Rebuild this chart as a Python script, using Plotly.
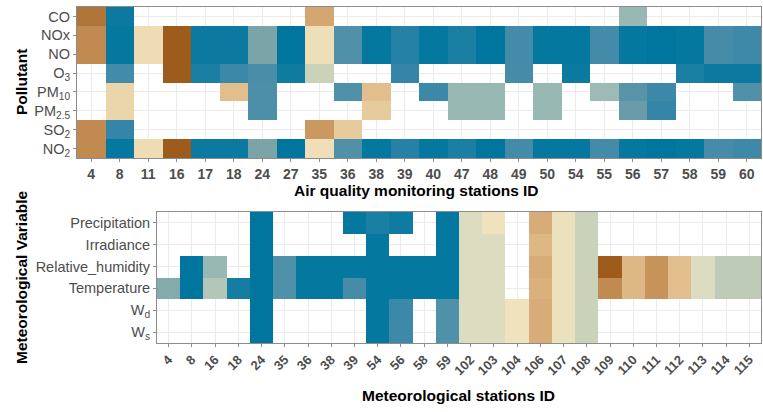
import plotly.graph_objects as go

# ---- Air quality monitoring stations (top panel) ----
aq_stations = ["4", "8", "11", "16", "17", "18", "24", "27", "35", "36", "38", "39",
               "40", "47", "48", "49", "50", "54", "55", "56", "57", "58", "59", "60"]
pollutants = ["CO", "NOx", "NO", "O<sub>3</sub>", "PM<sub>10</sub>", "PM<sub>2.5</sub>",
              "SO<sub>2</sub>", "NO<sub>2</sub>"]

N = None
co    = [0.08, 0.98, N, N, N, N, N, N, 0.25, N, N, N, N, N, N, N, N, N, N, 0.66, N, N, N, N]
nox   = [0.15, 0.99, 0.42, 0.0, 0.98, 0.98, 0.72, 1.0, 0.43, 0.82, 0.99, 0.93,
         0.99, 0.95, 1.0, 0.86, 0.99, 0.99, 0.86, 0.99, 1.0, 0.99, 0.85, 0.87]
no    = [0.15, 0.99, 0.42, 0.0, 0.98, 0.98, 0.72, 1.0, 0.43, 0.82, 0.99, 0.93,
         0.99, 0.95, 1.0, 0.86, 0.99, 0.99, 0.86, 0.99, 1.0, 0.99, 0.85, 0.87]
o3    = [N, 0.86, N, 0.0, 0.95, 0.88, 0.84, 0.97, 0.55, N, N, 0.9,
         N, N, N, 0.85, N, 0.98, N, N, N, 0.95, 0.98, 0.98]
pm10  = [N, 0.4, N, N, N, 0.32, 0.83, N, N, 0.82, 0.32, N,
         0.88, 0.66, 0.66, N, 0.66, N, 0.65, 0.8, 0.88, N, N, 0.82]
pm25  = [N, 0.4, N, N, N, N, 0.83, N, N, N, 0.36, N,
         N, 0.66, 0.66, N, 0.66, N, N, 0.76, 0.9, N, N, N]
so2   = [0.15, 0.9, N, N, N, N, N, N, 0.2, 0.36, N, N, N, N, N, N, N, N, N, N, N, N, N, N]
no2   = [0.15, 0.99, 0.42, 0.0, 0.98, 0.98, 0.72, 1.0, 0.43, 0.82, 0.99, 0.93,
         0.99, 0.95, 1.0, 0.86, 0.99, 0.99, 0.86, 0.99, 1.0, 0.99, 0.85, 0.87]

# ---- Meteorological stations (bottom panel) ----
met_stations = ["4", "8", "16", "18", "24", "35", "36", "38", "39", "54", "56", "58", "59",
                "102", "103", "104", "106", "107", "108", "109", "110", "111", "112",
                "113", "114", "115"]
met_vars = ["Precipitation", "Irradiance", "Relative_humidity", "Temperature",
            "W<sub>d</sub>", "W<sub>s</sub>"]

precip = [N, N, N, N, 1.0, N, N, N, 0.99, 0.95, 0.97, N, 0.99,
          0.5, 0.44, N, 0.27, 0.45, 0.55, N, N, N, N, N, N, N]
irrad  = [N, N, N, N, 1.0, N, N, N, N, 0.99, N, N, 0.99,
          0.5, 0.5, N, 0.3, 0.45, 0.55, N, N, N, N, N, N, N]
rhum   = [N, 1.0, 0.66, N, 1.0, 0.82, 0.99, 0.99, 0.99, 0.99, 0.99, 0.99, 0.99,
          0.5, 0.5, N, 0.27, 0.45, 0.55, 0.0, 0.3, 0.18, 0.32, 0.5, 0.58, 0.58]
temp   = [0.7, 1.0, 0.6, 0.96, 1.0, 0.82, 0.99, 0.99, 0.85, 0.99, 0.99, 0.99, 0.99,
          0.5, 0.5, N, 0.28, 0.45, 0.55, 0.15, 0.3, 0.18, 0.32, 0.5, 0.58, 0.58]
wdir   = [N, N, N, N, 1.0, N, N, N, N, 0.99, 0.88, N, 0.82,
          0.5, 0.5, 0.44, 0.27, 0.45, 0.55, N, N, N, N, N, N, N]
wspd   = [N, N, N, N, 1.0, N, N, N, N, 0.99, 0.87, N, 0.82,
          0.5, 0.5, 0.44, 0.27, 0.45, 0.55, N, N, N, N, N, N, N]

# brown -> cream -> teal-blue scale
colorscale = [
    [0.00, "#9e5c1c"],
    [0.15, "#c08a50"],
    [0.27, "#d8ac78"],
    [0.35, "#e6c898"],
    [0.44, "#efe2bc"],
    [0.50, "#dcdcc0"],
    [0.56, "#c6d0b8"],
    [0.66, "#98b8b4"],
    [0.72, "#7aa4a8"],
    [0.82, "#5090a8"],
    [0.90, "#3585a8"],
    [1.00, "#00769e"],
]

W, H = 763, 412
def px_x(p): return p / W
def px_y(p): return 1 - p / H

top_z = [co, nox, no, o3, pm10, pm25, so2, no2]
bot_z = [precip, irrad, rhum, temp, wdir, wspd]

fig = go.Figure()
fig.add_trace(go.Heatmap(
    x=aq_stations, y=pollutants, z=top_z, colorscale=colorscale,
    zmin=0, zmax=1, showscale=False, xaxis="x", yaxis="y", hoverongaps=False,
))
fig.add_trace(go.Heatmap(
    x=met_stations, y=met_vars, z=bot_z, colorscale=colorscale,
    zmin=0, zmax=1, showscale=False, xaxis="x2", yaxis="y2", hoverongaps=False,
))

FONT = "Liberation Sans, Arial, sans-serif"
axis_common = dict(
    type="category", showgrid=True, gridcolor="#ebebeb", gridwidth=1,
    showline=True, linecolor="#8c8c8c", linewidth=1, mirror=True,
    ticks="outside", ticklen=3, tickcolor="#8c8c8c", zeroline=False,
)

fig.update_layout(
    width=W, height=H, margin=dict(l=0, r=0, t=0, b=0),
    paper_bgcolor="white", plot_bgcolor="white",
    font=dict(family=FONT, color="#4d4d4d"),
    xaxis=dict(axis_common, domain=[px_x(77), px_x(761)], anchor="y",
               categoryorder="array", categoryarray=aq_stations,
               tickfont=dict(size=14, color="#4d4d4d", family=FONT, weight="bold")),
    yaxis=dict(axis_common, domain=[px_y(158), px_y(7)], anchor="x",
               categoryorder="array", categoryarray=pollutants[::-1],
               tickfont=dict(size=14.5, color="#4d4d4d")),
    xaxis2=dict(axis_common, domain=[px_x(157), px_x(761)], anchor="y2",
                categoryorder="array", categoryarray=met_stations, tickangle=-45,
                tickfont=dict(size=13, color="#4d4d4d", family=FONT, weight="bold")),
    yaxis2=dict(axis_common, domain=[px_y(343), px_y(212)], anchor="x2",
                categoryorder="array", categoryarray=met_vars[::-1],
                tickfont=dict(size=14.5, color="#4d4d4d")),
)

title_font = dict(family=FONT, size=15.5, color="black", weight="bold")
fig.add_annotation(text="Air quality monitoring stations ID", x=px_x(417), y=px_y(190),
                   xref="paper", yref="paper", showarrow=False, font=title_font,
                   xanchor="center", yanchor="middle")
fig.add_annotation(text="Meteorological stations ID", x=px_x(458), y=px_y(395),
                   xref="paper", yref="paper", showarrow=False, font=title_font,
                   xanchor="center", yanchor="middle")
fig.add_annotation(text="Pollutant", x=px_x(21), y=px_y(82), textangle=-90,
                   xref="paper", yref="paper", showarrow=False, font=title_font,
                   xanchor="center", yanchor="middle")
fig.add_annotation(text="Meteorological Variable", x=px_x(21), y=px_y(277), textangle=-90,
                   xref="paper", yref="paper", showarrow=False, font=title_font,
                   xanchor="center", yanchor="middle")

fig.write_html("out.html")
